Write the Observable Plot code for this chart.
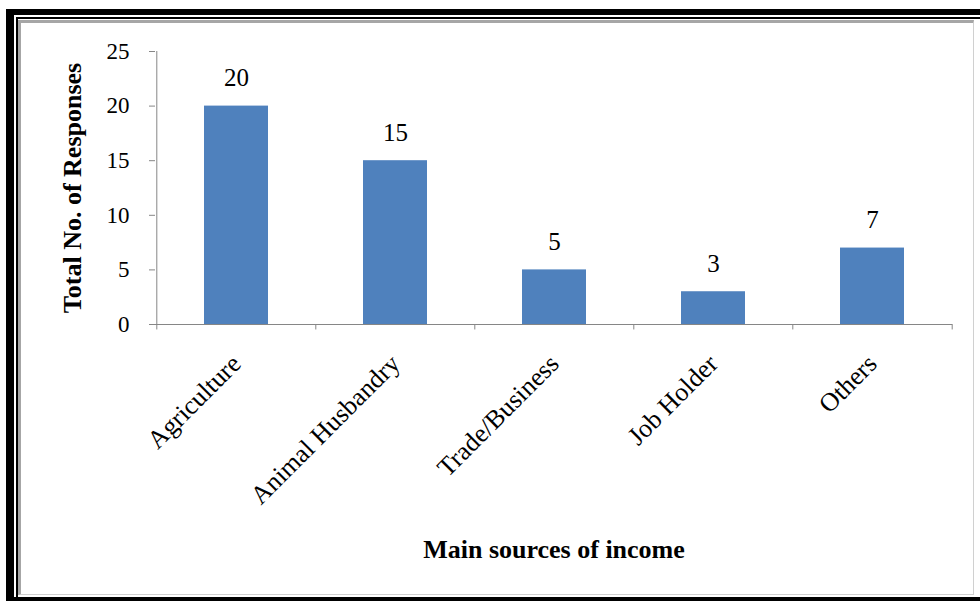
<!DOCTYPE html>
<html><head><meta charset="utf-8">
<script src="https://cdn.jsdelivr.net/npm/d3@7"></script>
<script src="https://cdn.jsdelivr.net/npm/@observablehq/plot@0.6"></script>
<style>
body{margin:0;background:#fff;width:980px;height:601px;overflow:hidden;position:relative;font-family:"Liberation Serif",serif}
#outer{position:absolute;left:6px;top:9px;width:990px;height:592px;box-sizing:border-box;border-left:8px solid #000;border-top:6px solid #000;border-bottom:4px solid #000}
#inner{position:absolute;left:2px;top:2px;right:0;bottom:0;border-left:2px solid #000;border-top:2px solid #000}
#gray{position:absolute;left:18px;top:20px;width:956px;height:575px;box-sizing:border-box;border-left:3px solid #a6a6a6;border-top:3px solid #a6a6a6;border-right:1px solid #d0d0d0;border-bottom:1px solid #d0d0d0}
#chart{position:absolute;left:0;top:0}
</style></head>
<body>
<div id="outer"><div id="inner"></div></div>
<div id="gray"></div>
<div id="chart"></div>
<script>
const categories = ["Agriculture", "Animal Husbandry", "Trade/Business", "Job Holder", "Others"];
const responses = [20, 15, 5, 3, 7];
const yTicks = [0, 5, 10, 15, 20, 25];
const xLabel = "Main sources of income";
const yLabel = "Total No. of Responses";

const data = categories.map((c, i) => ({category: c, value: responses[i]}));

const W = 980, H = 601, mL = 155, mR = 28, mT = 51, mB = 277;
const step = (W - mL - mR) / categories.length;
const axisColor = "#868686";

const chart = Plot.plot({
  width: W, height: H,
  marginLeft: mL, marginRight: mR, marginTop: mT, marginBottom: mB,
  style: {background: "transparent", fontFamily: "'Liberation Serif', 'Times New Roman', serif", color: "#000", overflow: "visible"},
  x: {type: "band", domain: categories, paddingInner: 0.6, paddingOuter: 0.3, label: null},
  y: {domain: [0, 25], label: null},
  marks: [
    Plot.barY(data, {x: "category", y: "value", fill: "#4F81BD"}),
    Plot.ruleY([0], {stroke: axisColor}),
    Plot.ruleX([categories[0]], {dx: -step / 2, y1: 0, y2: 25, stroke: axisColor}),
    Plot.ruleX(categories, {dx: -step / 2, y1: 0, y2: -0.5, stroke: axisColor}),
    Plot.ruleX([categories[categories.length - 1]], {dx: step / 2, y1: 0, y2: -0.5, stroke: axisColor}),
    Plot.axisY({ticks: yTicks, tickSize: 6, tickPadding: 20, fontSize: 23, stroke: axisColor, fill: "#000", label: null}),
    Plot.axisX({tickSize: 0, tickRotate: -45, tickPadding: 35, fontSize: 26, fill: "#000", label: null}),
    Plot.text(data, {x: "category", y: "value", text: d => String(d.value), dy: -28, fontSize: 25, fill: "#000"}),
    Plot.text([xLabel], {frameAnchor: "bottom", lineAnchor: "middle", dy: 225, fontSize: 26, fontWeight: "bold", fill: "#000"}),
    Plot.text([yLabel], {frameAnchor: "left", textAnchor: "middle", lineAnchor: "middle", dx: -83, rotate: -90, fontSize: 26, fontWeight: "bold", fill: "#000"})
  ]
});
document.getElementById("chart").appendChild(chart);
</script>
</body></html>
